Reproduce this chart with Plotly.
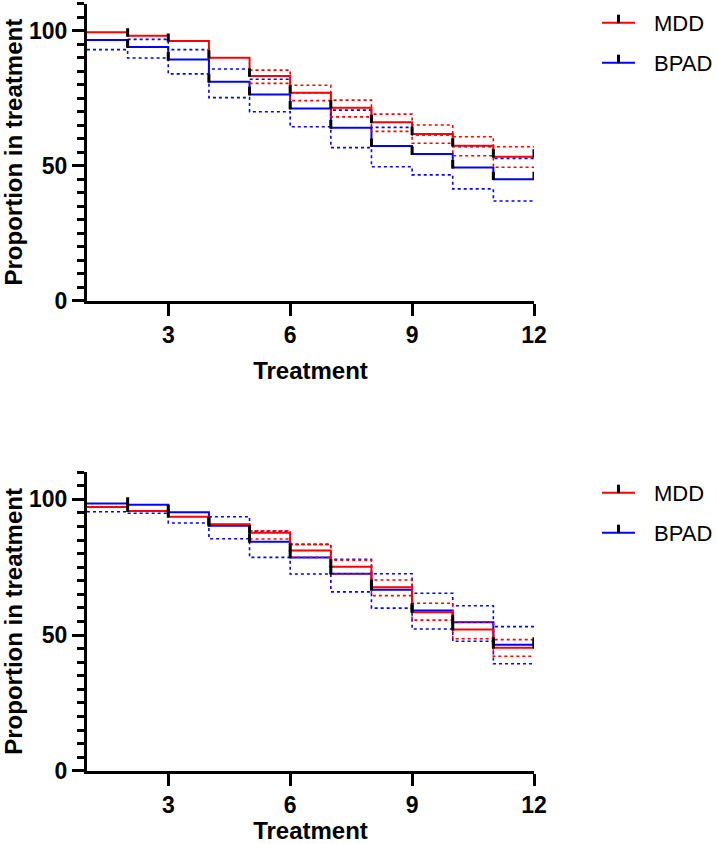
import plotly.graph_objects as go

# ---------------- data ----------------
start_times = [1, 2, 3, 4, 5, 6, 7, 8, 9, 10, 11]
end_time = 12
x_ticks = [3, 6, 9, 12]
y_ticks = [0, 50, 100]

top_mdd = [99.4, 98.1, 96.2, 90.0, 83.2, 77.0, 71.5, 66.1, 61.7, 57.4, 53.3]
top_mdd_upper = [None, None, None, None, 85.4, 79.8, 74.3, 69.1, 65.1, 60.7, 57.0]
top_mdd_lower = [None, None, None, None, 80.5, 74.1, 68.1, 62.7, 58.3, 53.7, 49.4]
top_bpad = [96.6, 94.0, 89.3, 81.1, 76.4, 71.2, 64.1, 57.3, 54.3, 49.3, 45.0]
top_bpad_upper = [None, 96.8, 93.0, 85.8, 82.0, 77.0, 70.6, 64.2, 61.4, 57.0, 52.7]
top_bpad_lower = [93.0, 89.9, 84.0, 75.2, 70.0, 64.4, 56.7, 49.6, 46.6, 41.4, 36.9]

bot_mdd = [97.2, 95.7, 93.6, 90.8, 87.7, 81.1, 75.2, 67.6, 58.4, 52.0, 45.3]
bot_mdd_upper = [None, None, None, None, 88.4, 83.4, 77.6, 70.3, 61.7, 54.8, 48.3]
bot_mdd_lower = [None, None, None, None, 85.4, 78.6, 72.5, 64.5, 55.5, 48.6, 42.2]
bot_bpad = [98.5, 98.0, 95.2, 90.3, 84.4, 78.6, 72.6, 66.7, 59.0, 54.7, 46.4]
bot_bpad_upper = [None, None, None, 93.6, 88.3, 83.4, 77.9, 72.6, 65.4, 60.8, 53.1]
bot_bpad_lower = [95.4, 94.9, 91.3, 85.5, 78.6, 72.5, 65.9, 59.9, 52.2, 47.7, 39.4]

series_names = ["MDD", "BPAD"]
series_colors = {"MDD": "#FF0000", "BPAD": "#0000FF"}

# ---------------- styling ----------------
FONT = "Liberation Sans, Arial, Helvetica, sans-serif"
W, H = 717, 844
ML, MR = 87, 183
PW = W - ML - MR
TOP_DOMAIN = [1 - 300.7 / H, 1 - 3.7 / H]
BOT_DOMAIN = [1 - 770.7 / H, 1 - 472.2 / H]
TICK_UP = 2.8  # censor tick height in data units


def step_xy(vals):
    return start_times + [end_time], vals + [vals[-1]]


def censor_xy(vals):
    return start_times[1:] + [end_time], vals[1:] + [vals[-1]]


def px_x(px):
    return (px - ML) / PW


def px_y(py):
    return 1 - py / H


fig = go.Figure()
shapes = []
annotations = []


def add_panel(xa, ya, data, legend_top):
    # draw BPAD first, MDD on top
    for name in ["BPAD", "MDD"]:
        est, up, lo = data[name]
        col = series_colors[name]
        for band in (up, lo):
            bx, by = step_xy(band)
            fig.add_trace(go.Scatter(x=bx, y=by, mode="lines", line_shape="hv",
                                     line=dict(color=col, width=1.6, dash="dot"),
                                     connectgaps=False, showlegend=False,
                                     xaxis=xa, yaxis=ya, hoverinfo="skip"))
        sx, sy = step_xy(est)
        fig.add_trace(go.Scatter(x=sx, y=sy, mode="lines", line_shape="hv",
                                 line=dict(color=col, width=2), showlegend=False,
                                 xaxis=xa, yaxis=ya, name=name))
    for name in ["BPAD", "MDD"]:
        est = data[name][0]
        cx, cy = censor_xy(est)
        fig.add_trace(go.Scatter(x=cx, y=cy, mode="markers",
                                 marker=dict(size=1, color="rgba(0,0,0,0)"),
                                 error_y=dict(type="data", symmetric=False,
                                              array=[TICK_UP] * len(cx),
                                              arrayminus=[0.3] * len(cx),
                                              width=0, thickness=3, color="black"),
                                 showlegend=False, xaxis=xa, yaxis=ya, hoverinfo="skip"))
    # legend (drawn as line sample + censor tick + label)
    for i, name in enumerate(series_names):
        ly = legend_top + 40 * i
        shapes.append(dict(type="line", xref="paper", yref="paper",
                           x0=px_x(602), x1=px_x(635), y0=px_y(ly), y1=px_y(ly),
                           line=dict(color=series_colors[name], width=2)))
        shapes.append(dict(type="line", xref="paper", yref="paper",
                           x0=px_x(618.5), x1=px_x(618.5), y0=px_y(ly + 0.5), y1=px_y(ly - 8),
                           line=dict(color="black", width=3)))
        annotations.append(dict(text=name, xref="paper", yref="paper",
                                x=px_x(652), y=px_y(ly + 1), xanchor="left", yanchor="middle",
                                showarrow=False,
                                font=dict(family=FONT, size=22, color="black")))


add_panel("x", "y", {"MDD": (top_mdd, top_mdd_upper, top_mdd_lower),
                     "BPAD": (top_bpad, top_bpad_upper, top_bpad_lower)}, 22.7)
add_panel("x2", "y2", {"MDD": (bot_mdd, bot_mdd_upper, bot_mdd_lower),
                       "BPAD": (bot_bpad, bot_bpad_upper, bot_bpad_lower)}, 492.7)

xaxis_style = dict(range=[1, 12], tickvals=x_ticks, showgrid=False, zeroline=False,
                   showline=True, linecolor="black", linewidth=3,
                   ticks="outside", ticklen=12, tickwidth=3, tickcolor="black",
                   tickfont=dict(family=FONT, size=23, color="black", weight="bold"),
                   title=dict(text="Treatment", standoff=15,
                              font=dict(family=FONT, size=24, color="black", weight="bold")),
                   domain=[0, 1], fixedrange=True, automargin=False)
yaxis_style = dict(range=[0, 110], tickvals=y_ticks, showgrid=False, zeroline=False,
                   showline=True, linecolor="black", linewidth=3,
                   ticks="outside", ticklen=12, tickwidth=2.5, tickcolor="black",
                   minor=dict(dtick=5, tick0=0, ticklen=7, tickwidth=2.5,
                              tickcolor="black", ticks="outside", showgrid=False),
                   tickfont=dict(family=FONT, size=23, color="black", weight="bold"),
                   title=dict(text="Proportion in treatment", standoff=16,
                              font=dict(family=FONT, size=24, color="black", weight="bold")),
                   fixedrange=True, automargin=False)

fig.update_layout(
    width=W, height=H,
    margin=dict(l=ML, r=MR, t=0, b=0),
    paper_bgcolor="white", plot_bgcolor="white",
    xaxis=dict(xaxis_style, anchor="y"),
    yaxis=dict(yaxis_style, domain=TOP_DOMAIN, anchor="x"),
    xaxis2=dict(xaxis_style, anchor="y2"),
    yaxis2=dict(yaxis_style, domain=BOT_DOMAIN, anchor="x2"),
    showlegend=False,
    shapes=shapes,
    annotations=annotations,
)

fig.write_html("out.html", config={"displayModeBar": False},
               post_script="document.body.style.margin='0';")
